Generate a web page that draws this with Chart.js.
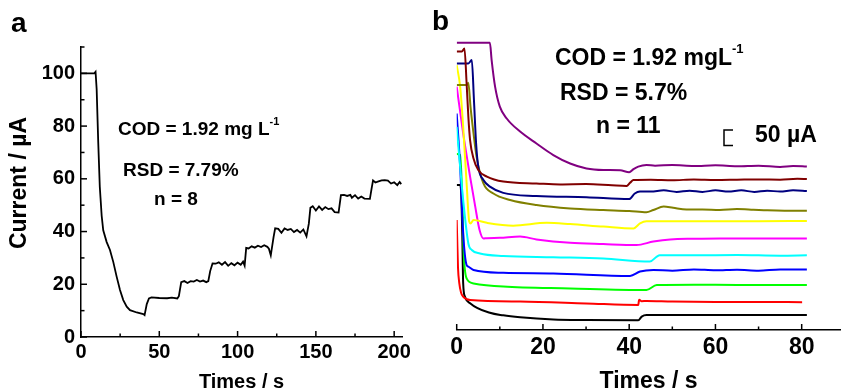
<!DOCTYPE html>
<html><head><meta charset="utf-8">
<script src="https://cdn.jsdelivr.net/npm/chart.js@4/dist/chart.umd.min.js"></script>
<style>
html,body{margin:0;padding:0;background:#fff;width:844px;height:391px;overflow:hidden}
#wa{position:absolute;left:0;top:0;width:420px;height:391px}
#wb{position:absolute;left:420px;top:0;width:424px;height:391px}
</style></head><body>
<div id="wa"><canvas id="ca"></canvas></div>
<div id="wb"><canvas id="cb"></canvas></div>
<script>
// ---------- Panel a data (time in s, current in µA) ----------
const timeA = [0,8.5,9.3,10,11,12,13.2,14.2,16.4,18.5,20.6,22.8,24.9,27,29.2,31.3,35.6,39.8,40.6,42,43.4,45,50,55,58,61.5,62.5,64,66,68,70,72,74,76,78,80,81.3,82.5,84,86,88,90,92,94,96,98,100,102,103.5,104.5,105.5,107,109,111,113,115,117,119,120,121.2,123,124,126,128,130,132,134,136,138,140,142,144,145.5,146.5,148,150,152,154,156,158,160,162,164.5,166,168,170,172,173,175,177,179,181,184.5,185.5,186.5,188,190,192,194,196,198,200,202,203.5,204.5];
const currentA = [100,100,100.6,94,74,57,46,40.5,36,33,28.5,22.8,17.8,14,11.5,10.2,9.3,8.7,8.3,12.5,14.6,15,14.8,14.7,14.9,14.6,15.5,20.8,21.2,20.5,21.2,21,21.6,21,21.4,20.8,21.2,25,27.9,27.8,28.3,27.4,28.4,27,28,27.2,28.2,27.4,28.6,27.1,33.8,33.6,34.4,33.9,34.6,34.1,34.8,34.2,33.5,31,38,41.2,41,39.5,41.2,40.6,41,39.8,40.6,39.6,40.8,38.2,43,49,49.6,48,49.5,48.2,49.3,48.5,48.8,47.4,47.2,53.8,53.9,53.5,53.9,52.8,53.8,52.5,53.3,52.5,52.4,56,59.4,58.6,59,59.4,59.5,59.3,58.2,58.7,57.6,58.8,58];

// ---------- Panel b data (time in s, offset current in µA) ----------
const purpleT = [0,7.7,8.1,8.9,10,11.6,14.7,18.5,22.4,26.3,30.1,34,37.9,40,41,42.1,44,46,50,55,60,65,70,75,78,81.2];
const purpleI = [919,919,864,779,715,677,635,597,560,533,517,512,511,505,515,523,528,526,528,525,527,524,526,522,525,523];
const maroonT = [0,1.2,1.8,2.3,2.7,3.1,3.9,5,7,10.8,18.5,24,30,36,39.4,40.2,41,45,50,55,60,65,70,75,79,81.2];
const maroonI = [891,891,901,789,683,608,549,512,491,475,469,466,467,463,461,471,480,481,479,482,480,481,482,481,484,483];
const navyT = [0,2.7,3.5,4,4.5,5,6.2,7.7,10.8,18.5,30.1,40,41.3,42.5,45,48,51,54,57,60,63,66,69,72,75,78,81.2];
const navyI = [853,853,864,736,597,523,480,459,439,429,425,419,437,443,443,447,442,446,442,447,443,447,442,446,443,447,445];
const oliveT = [0,2.3,2.7,3.2,3.9,4.6,6.2,8.5,12.4,18.5,26.3,34,40,44,45.6,48,50.2,53.3,57,61,65,68.8,72,76,81.2];
const oliveI = [784,784,791,715,629,555,469,437,416,400,389,384,381,377,384,395,391,386,386,384,387,385,383,382,382];
const yellowT = [0,0.8,1.5,2.3,2.9,3.2,3.9,7,13.1,20.9,26.3,34,41,42.5,44,50,60,70,81.2];
const yellowI = [848,779,651,469,347,341,352,343,334,343,339,331,325,341,348,348,348,348,349];
const magentaT = [0,1.5,3.1,4.3,5.3,6.2,7,10,14.7,18.5,26.3,34,41.7,45.6,49.5,55,61,70,81.2];
const magentaI = [779,629,491,395,320,293,294,295,299,290,279,275,272,283,290,292,293,293,293];
const cyanT = [0,1.5,2.7,3.5,5.4,10.8,22.4,34,44.8,46.4,47.1,55,65,75,81.2];
const cyanI = [650,416,277,256,245,237,233,229,219,235,239,239,240,238,239];
const blueT = [0,0.8,1.5,2.3,2.7,3.9,10.8,22.4,40.2,42.5,45.6,50,55,60,65,70,75,81.2];
const blueI = [693,523,309,208,203,192,183,181,173,187,192,190,194,191,193,190,194,194];
const greenT = [0,0.8,1.3,1.6,2.3,3.9,10.8,26.3,44,46.4,55,65,75,81.2];
const greenI = [563,560,420,256,165,149,139,133,128,144,145,144,144,144];
const redT = [0,0.1,0.3,0.6,1,1.5,3.1,14.7,30,42.1,42.3,42.9,44,50,60,70,80.1];
const redI = [352,300,200,150,120,107,96,91,85,80,97,92,93,91,90,90,89];
const blackT = [0,0.8,1.1,1.3,1.5,1.9,3.1,7.7,10.8,14.7,22.4,30,42.1,42.9,44,55,65,81.2];
const blackI = [464,464,420,300,150,107,86,55,47,41,34,32,31,43,48,48,48,48];

const seriesB = [
  [purpleT, purpleI, '#800080'],
  [maroonT, maroonI, '#800000'],
  [navyT, navyI, '#000080'],
  [oliveT, oliveI, '#808000'],
  [yellowT, yellowI, '#ffff00'],
  [magentaT, magentaI, '#ff00ff'],
  [cyanT, cyanI, '#00ffff'],
  [blueT, blueI, '#0000ff'],
  [greenT, greenI, '#00ff00'],
  [redT, redI, '#ff0000'],
  [blackT, blackI, '#000000']
];

const FONT = "'Liberation Sans', Arial, sans-serif";

// plugin: inward tick marks
const inTicks = {
  id: 'inTicks',
  afterDraw(chart, args, opts) {
    const ctx = chart.ctx;
    ctx.save();
    ctx.strokeStyle = '#000';
    ctx.lineWidth = 1.5;
    for (const key of Object.keys(opts.axes || {})) {
      const sc = chart.scales[key];
      const a = opts.axes[key];
      for (const t of sc.ticks) {
        const v = t.value;
        let len = 0;
        if (Math.abs(v / a.major - Math.round(v / a.major)) < 1e-6) len = 6;
        else if (Math.abs(v / a.minor - Math.round(v / a.minor)) < 1e-6) len = 3.5;
        if (!len) continue;
        const p = sc.getPixelForValue(v);
        ctx.beginPath();
        if (sc.isHorizontal()) {
          ctx.moveTo(p, sc.top); ctx.lineTo(p, sc.top - len);
        } else {
          ctx.moveTo(sc.right, p); ctx.lineTo(sc.right + len, p);
        }
        ctx.stroke();
      }
    }
    ctx.restore();
  }
};

// plugin: text annotations
const notes = {
  id: 'notes',
  afterDraw(chart, args, opts) {
    const ctx = chart.ctx;
    ctx.save();
    ctx.fillStyle = '#000';
    ctx.textBaseline = 'middle';
    for (const it of (opts.items || [])) {
      ctx.font = 'bold ' + it.size + 'px ' + FONT;
      if (it.rot) {
        ctx.save();
        ctx.translate(it.x, it.y);
        ctx.rotate(it.rot);
        ctx.textAlign = 'center';
        ctx.fillText(it.text, 0, 0);
        ctx.restore();
        continue;
      }
      ctx.textAlign = 'left';
      ctx.fillText(it.text, it.x, it.y);
      if (it.sup) {
        const w = ctx.measureText(it.text).width;
        ctx.font = 'bold ' + it.supSize + 'px ' + FONT;
        ctx.fillText(it.sup, it.x + w + (it.supDx || 0), it.y - it.supDy);
      }
    }
    if (opts.bracket) {
      const b = opts.bracket;
      const ys = chart.scales.y;
      const h = ys.getPixelForValue(0) - ys.getPixelForValue(b.value);
      ctx.strokeStyle = '#000';
      ctx.lineWidth = 1.5;
      ctx.beginPath();
      ctx.moveTo(b.x + b.w, b.y);
      ctx.lineTo(b.x, b.y);
      ctx.lineTo(b.x, b.y + h);
      ctx.lineTo(b.x + b.w, b.y + h);
      ctx.stroke();
    }
    ctx.restore();
  }
};

Chart.register(inTicks, notes);

// ---------- Panel a ----------
new Chart(document.getElementById('ca'), {
  type: 'line',
  data: {
    datasets: [{
      data: timeA.map((t, i) => ({x: t, y: currentA[i]})),
      borderColor: '#000', borderWidth: 1.8, pointRadius: 0, tension: 0, fill: false
    }]
  },
  options: {
    responsive: true, maintainAspectRatio: false, animation: false,
    layout: {padding: {left: 0, top: 47, right: 18, bottom: 0}},
    plugins: {
      legend: {display: false}, tooltip: {enabled: false},
      inTicks: {axes: {x: {major: 50, minor: 25}, y: {major: 20, minor: 10}}},
      notes: {items: [
        {text: 'a', x: 11, y: 24, size: 28},
        {text: 'Current / µA', x: 20, y: 183, size: 23, rot: -Math.PI / 2},
        {text: 'COD = 1.92 mg L', x: 118, y: 130, size: 19, sup: '-1', supSize: 11, supDy: 8, supDx: 0},
        {text: 'RSD = 7.79%', x: 123, y: 171, size: 19},
        {text: 'n = 8', x: 154, y: 200, size: 19}
      ]}
    },
    scales: {
      x: {
        type: 'linear', min: 0, max: 205,
        afterFit: s => { s.height = 54; },
        grid: {display: false, drawTicks: false},
        border: {display: true, color: '#000', width: 1.5},
        ticks: {stepSize: 25, includeBounds: false, autoSkip: false, maxRotation: 0, padding: 3, color: '#000',
          font: {family: FONT, size: 20, weight: 'bold'},
          callback: v => (v % 50 === 0 ? String(v) : '')},
        title: {display: true, text: 'Times / s', color: '#000', padding: {top: 0, bottom: 0},
          font: {family: FONT, size: 20, weight: 'bold', lineHeight: 0.9}}
      },
      y: {
        min: 0, max: 110,
        afterFit: s => { s.width = 81; },
        grid: {display: false, drawTicks: false},
        border: {display: true, color: '#000', width: 1.5},
        ticks: {stepSize: 10, includeBounds: false, autoSkip: false, padding: 6, color: '#000',
          font: {family: FONT, size: 20, weight: 'bold'},
          callback: v => (v % 20 === 0 ? String(v) : '')}
      }
    }
  }
});

// ---------- Panel b ----------
new Chart(document.getElementById('cb'), {
  type: 'line',
  data: {
    datasets: seriesB.map(([ts, is, c]) => ({
      data: ts.map((t, i) => ({x: t, y: is[i]})),
      borderColor: c, borderWidth: 2, pointRadius: 0,
      cubicInterpolationMode: 'monotone', fill: false
    }))
  },
  options: {
    responsive: true, maintainAspectRatio: false, animation: false,
    layout: {padding: {left: 36.7, top: 36, right: 3.5, bottom: 0}},
    plugins: {
      legend: {display: false}, tooltip: {enabled: false},
      inTicks: {axes: {x: {major: 20, minor: 10}}},
      notes: {items: [
        {text: 'b', x: 12, y: 22, size: 28},
        {text: 'COD = 1.92 mgL', x: 135, y: 59, size: 23, sup: '-1', supSize: 13, supDy: 10, supDx: 0},
        {text: 'RSD = 5.7%', x: 140, y: 94, size: 23},
        {text: 'n = 11', x: 176, y: 127, size: 23},
        {text: '50 µA', x: 335, y: 136, size: 23}
      ], bracket: {x: 304, y: 130, w: 9, value: 50}}
    },
    scales: {
      x: {
        type: 'linear', min: 0, max: 89,
        afterFit: s => { s.height = 61; },
        grid: {display: false, drawTicks: false},
        border: {display: true, color: '#000', width: 1.5},
        ticks: {stepSize: 10, includeBounds: false, autoSkip: false, maxRotation: 0, padding: 4, color: '#000',
          font: {family: FONT, size: 23, weight: 'bold'},
          callback: v => (v % 20 === 0 ? String(v) : '')},
        title: {display: true, text: 'Times / s', color: '#000', padding: {top: 0, bottom: 0},
          font: {family: FONT, size: 23, weight: 'bold', lineHeight: 0.8}}
      },
      y: {display: false, min: 0, max: 941}
    }
  }
});
</script>
</body></html>
